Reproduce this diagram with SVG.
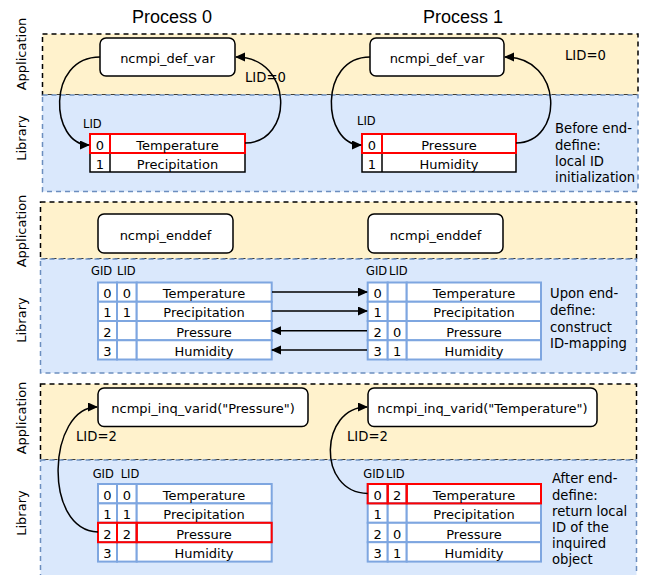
<svg xmlns="http://www.w3.org/2000/svg" width="647" height="575" viewBox="0 0 647 575">
<style>
text{font-family:"DejaVu Sans",Verdana,sans-serif;fill:#000}
.title{font-family:"Liberation Sans",Arial,sans-serif;font-size:18px;text-anchor:middle}
.side{font-size:13px;text-anchor:middle}
.app{fill:#fff2cc;stroke:#000;stroke-width:1.5;stroke-dasharray:5 4}
.lib{fill:#dae8fc;stroke:#6c8ebf;stroke-width:1.5;stroke-dasharray:5 4}
.node{fill:#fff;stroke:#000;stroke-width:1.5}
.nt{font-size:13px;text-anchor:middle}
.ct{font-size:13px;text-anchor:middle}
.small{font-size:11.5px}
.note{font-size:13.2px}
.tb{fill:#fff;stroke:#000;stroke-width:1.5}
.tbb{fill:#fff;stroke:#7ea6e0;stroke-width:2}
.hl{fill:none;stroke:#ff0000;stroke-width:2}
.conn{fill:none;stroke:#000;stroke-width:1.5;marker-end:url(#ah)}
</style>
<defs>
<marker id="ah" markerUnits="userSpaceOnUse" markerWidth="10" markerHeight="10" refX="9" refY="4.5" orient="auto">
<path d="M0,0 L10,4.5 L0,9 z" fill="#000"/>
</marker>
</defs>

<g id="panels">
<rect class="app" x="42.5" y="34" width="595.5" height="61"/>
<rect class="lib" x="42.5" y="95" width="595.5" height="96.5"/>
<rect class="app" x="40.5" y="202" width="596" height="57"/>
<rect class="lib" x="40.5" y="259" width="596" height="114"/>
<rect class="app" x="40.5" y="384" width="596" height="76"/>
<rect class="lib" x="40.5" y="460" width="596" height="125"/>
</g>

<g id="labels">
<text class="title" x="172" y="22.5">Process 0</text>
<text class="title" x="463" y="22.5">Process 1</text>
<text class="side" transform="rotate(-90 26 54)" x="26" y="54">Application</text>
<text class="side" transform="rotate(-90 26 138)" x="26" y="138">Library</text>
<text class="side" transform="rotate(-90 26 231)" x="26" y="231">Application</text>
<text class="side" transform="rotate(-90 26 320)" x="26" y="320">Library</text>
<text class="side" transform="rotate(-90 26 418)" x="26" y="418">Application</text>
<text class="side" transform="rotate(-90 26 513)" x="26" y="513">Library</text>
<text class="note" x="245" y="82">LID=0</text>
<text class="note" x="565" y="60">LID=0</text>
<text class="note" x="555" y="133">Before end-</text>
<text class="note" x="555" y="150">define:</text>
<text class="note" x="555" y="166">local ID</text>
<text class="note" x="555" y="182">initialization</text>
<text class="note" x="550" y="298">Upon end-</text>
<text class="note" x="550" y="315">define:</text>
<text class="note" x="550" y="332">construct</text>
<text class="note" x="550" y="348">ID-mapping</text>
<text class="note" x="76" y="441">LID=2</text>
<text class="note" x="347" y="441">LID=2</text>
<text class="note" x="552" y="483">After end-</text>
<text class="note" x="552" y="500">define:</text>
<text class="note" x="552" y="516">return local</text>
<text class="note" x="552" y="532">ID of the</text>
<text class="note" x="552" y="548">inquired</text>
<text class="note" x="552" y="564">object</text>
</g>

<g id="p0-defvar">
<rect class="node" x="100" y="38" width="135" height="38" rx="6"/>
<text class="nt" x="167.5" y="63">ncmpi_def_var</text>
</g>
<g id="p1-defvar">
<rect class="node" x="370" y="38" width="134" height="38" rx="6"/>
<text class="nt" x="437" y="63">ncmpi_def_var</text>
</g>

<g id="p0-table1">
<text class="small" x="83" y="128">LID</text>
<rect class="tb" x="90" y="134" width="155" height="38"/>
<line x1="90" y1="153" x2="245" y2="153" stroke="#000" stroke-width="1.5"/>
<line x1="110" y1="134" x2="110" y2="172" stroke="#000" stroke-width="1.5"/>
<rect class="hl" x="90" y="134" width="20" height="19"/>
<rect class="hl" x="110" y="134" width="135" height="19"/>
<text class="ct" x="100" y="149.5">0</text>
<text class="ct" x="177.5" y="149.5">Temperature</text>
<text class="ct" x="100" y="168.5">1</text>
<text class="ct" x="177.5" y="168.5">Precipitation</text>
</g>
<g id="p1-table1">
<text class="small" x="357" y="125">LID</text>
<rect class="tb" x="362" y="134" width="154" height="38"/>
<line x1="362" y1="153" x2="516" y2="153" stroke="#000" stroke-width="1.5"/>
<line x1="382" y1="134" x2="382" y2="172" stroke="#000" stroke-width="1.5"/>
<rect class="hl" x="362" y="134" width="20" height="19"/>
<rect class="hl" x="382" y="134" width="134" height="19"/>
<text class="ct" x="372" y="149.5">0</text>
<text class="ct" x="449" y="149.5">Pressure</text>
<text class="ct" x="372" y="168.5">1</text>
<text class="ct" x="449" y="168.5">Humidity</text>
</g>

<g id="p0-enddef">
<rect class="node" x="98" y="214" width="135" height="39" rx="6"/>
<text class="nt" x="165.5" y="240">ncmpi_enddef</text>
</g>
<g id="p1-enddef">
<rect class="node" x="368" y="214" width="135" height="39" rx="6"/>
<text class="nt" x="435.5" y="240">ncmpi_enddef</text>
</g>

<g id="p0-table2">
<text class="small" x="91" y="275">GID</text>
<text class="small" x="117" y="275">LID</text>
<rect class="tbb" x="98" y="282.5" width="19" height="19.25"/><rect class="tbb" x="117" y="282.5" width="19.7" height="19.25"/><rect class="tbb" x="136.7" y="282.5" width="135" height="19.25"/>
<rect class="tbb" x="98" y="301.75" width="19" height="19.25"/><rect class="tbb" x="117" y="301.75" width="19.7" height="19.25"/><rect class="tbb" x="136.7" y="301.75" width="135" height="19.25"/>
<rect class="tbb" x="98" y="321" width="19" height="19.25"/><rect class="tbb" x="117" y="321" width="19.7" height="19.25"/><rect class="tbb" x="136.7" y="321" width="135" height="19.25"/>
<rect class="tbb" x="98" y="340.25" width="19" height="19.25"/><rect class="tbb" x="117" y="340.25" width="19.7" height="19.25"/><rect class="tbb" x="136.7" y="340.25" width="135" height="19.25"/>
<text class="ct" x="107.5" y="298">0</text><text class="ct" x="127" y="298">0</text><text class="ct" x="204" y="298">Temperature</text>
<text class="ct" x="107.5" y="317.2">1</text><text class="ct" x="127" y="317.2">1</text><text class="ct" x="204" y="317.2">Precipitation</text>
<text class="ct" x="107.5" y="336.5">2</text><text class="ct" x="204" y="336.5">Pressure</text>
<text class="ct" x="107.5" y="355.7">3</text><text class="ct" x="204" y="355.7">Humidity</text>
</g>
<g id="p1-table2">
<text class="small" x="366" y="275">GID</text>
<text class="small" x="389" y="275">LID</text>
<rect class="tbb" x="367.7" y="282.5" width="20" height="19.25"/><rect class="tbb" x="387.7" y="282.5" width="19" height="19.25"/><rect class="tbb" x="406.7" y="282.5" width="134.3" height="19.25"/>
<rect class="tbb" x="367.7" y="301.75" width="20" height="19.25"/><rect class="tbb" x="387.7" y="301.75" width="19" height="19.25"/><rect class="tbb" x="406.7" y="301.75" width="134.3" height="19.25"/>
<rect class="tbb" x="367.7" y="321" width="20" height="19.25"/><rect class="tbb" x="387.7" y="321" width="19" height="19.25"/><rect class="tbb" x="406.7" y="321" width="134.3" height="19.25"/>
<rect class="tbb" x="367.7" y="340.25" width="20" height="19.25"/><rect class="tbb" x="387.7" y="340.25" width="19" height="19.25"/><rect class="tbb" x="406.7" y="340.25" width="134.3" height="19.25"/>
<text class="ct" x="377.7" y="298">0</text><text class="ct" x="474" y="298">Temperature</text>
<text class="ct" x="377.7" y="317.2">1</text><text class="ct" x="474" y="317.2">Precipitation</text>
<text class="ct" x="377.7" y="336.5">2</text><text class="ct" x="397.2" y="336.5">0</text><text class="ct" x="474" y="336.5">Pressure</text>
<text class="ct" x="377.7" y="355.7">3</text><text class="ct" x="397.2" y="355.7">1</text><text class="ct" x="474" y="355.7">Humidity</text>
</g>

<g id="p0-inq">
<rect class="node" x="98" y="388" width="210" height="38.5" rx="6"/>
<text class="nt" x="203" y="413">ncmpi_inq_varid("Pressure")</text>
</g>
<g id="p1-inq">
<rect class="node" x="368" y="388" width="229" height="38.5" rx="6"/>
<text class="nt" x="482.5" y="413">ncmpi_inq_varid("Temperature")</text>
</g>

<g id="p0-table3">
<text class="small" x="92.7" y="478">GID</text>
<text class="small" x="120.7" y="478">LID</text>
<rect class="tbb" x="98" y="484" width="19" height="19.4"/><rect class="tbb" x="117" y="484" width="19.7" height="19.4"/><rect class="tbb" x="136.7" y="484" width="135" height="19.4"/>
<rect class="tbb" x="98" y="503.4" width="19" height="19.4"/><rect class="tbb" x="117" y="503.4" width="19.7" height="19.4"/><rect class="tbb" x="136.7" y="503.4" width="135" height="19.4"/>
<rect class="tbb" x="98" y="522.8" width="19" height="19.4"/><rect class="tbb" x="117" y="522.8" width="19.7" height="19.4"/><rect class="tbb" x="136.7" y="522.8" width="135" height="19.4"/>
<rect class="tbb" x="98" y="542.2" width="19" height="19.4"/><rect class="tbb" x="117" y="542.2" width="19.7" height="19.4"/><rect class="tbb" x="136.7" y="542.2" width="135" height="19.4"/>
<rect class="hl" x="98" y="522.8" width="19" height="19.4"/><rect class="hl" x="117" y="522.8" width="19.7" height="19.4"/><rect class="hl" x="136.7" y="522.8" width="135" height="19.4"/>
<text class="ct" x="107.5" y="500">0</text><text class="ct" x="127" y="500">0</text><text class="ct" x="204" y="500">Temperature</text>
<text class="ct" x="107.5" y="519.4">1</text><text class="ct" x="127" y="519.4">1</text><text class="ct" x="204" y="519.4">Precipitation</text>
<text class="ct" x="107.5" y="538.8">2</text><text class="ct" x="127" y="538.8">2</text><text class="ct" x="204" y="538.8">Pressure</text>
<text class="ct" x="107.5" y="558.2">3</text><text class="ct" x="204" y="558.2">Humidity</text>
</g>
<g id="p1-table3">
<text class="small" x="363.3" y="478">GID</text>
<text class="small" x="386" y="478">LID</text>
<rect class="tbb" x="367.7" y="484" width="20" height="19.4"/><rect class="tbb" x="387.7" y="484" width="19" height="19.4"/><rect class="tbb" x="406.7" y="484" width="134.3" height="19.4"/>
<rect class="tbb" x="367.7" y="503.4" width="20" height="19.4"/><rect class="tbb" x="387.7" y="503.4" width="19" height="19.4"/><rect class="tbb" x="406.7" y="503.4" width="134.3" height="19.4"/>
<rect class="tbb" x="367.7" y="522.8" width="20" height="19.4"/><rect class="tbb" x="387.7" y="522.8" width="19" height="19.4"/><rect class="tbb" x="406.7" y="522.8" width="134.3" height="19.4"/>
<rect class="tbb" x="367.7" y="542.2" width="20" height="19.4"/><rect class="tbb" x="387.7" y="542.2" width="19" height="19.4"/><rect class="tbb" x="406.7" y="542.2" width="134.3" height="19.4"/>
<rect class="hl" x="367.7" y="484" width="20" height="19.4"/><rect class="hl" x="387.7" y="484" width="19" height="19.4"/><rect class="hl" x="406.7" y="484" width="134.3" height="19.4"/>
<text class="ct" x="377.7" y="500">0</text><text class="ct" x="397.2" y="500">2</text><text class="ct" x="474" y="500">Temperature</text>
<text class="ct" x="377.7" y="519.4">1</text><text class="ct" x="474" y="519.4">Precipitation</text>
<text class="ct" x="377.7" y="538.8">2</text><text class="ct" x="397.2" y="538.8">0</text><text class="ct" x="474" y="538.8">Pressure</text>
<text class="ct" x="377.7" y="558.2">3</text><text class="ct" x="397.2" y="558.2">1</text><text class="ct" x="474" y="558.2">Humidity</text>
</g>

<g id="connectors">
<path class="conn" d="M100,57 C46,57 50,145 89,145"/>
<path class="conn" d="M245,143 C294,143 294,57 236,57"/>
<path class="conn" d="M370,57 C318,57 322,145 361,145"/>
<path class="conn" d="M516,143 C564,143 564,57 505,57"/>
<path class="conn" d="M272,292 L367,292"/>
<path class="conn" d="M272,311 L367,311"/>
<path class="conn" d="M367,330.7 L272,330.7"/>
<path class="conn" d="M367,350 L272,350"/>
<path class="conn" d="M98,532 C42,530 48,407 97,407"/>
<path class="conn" d="M367.7,493.5 C316,492 320,407 367,407"/>
</g>
</svg>
